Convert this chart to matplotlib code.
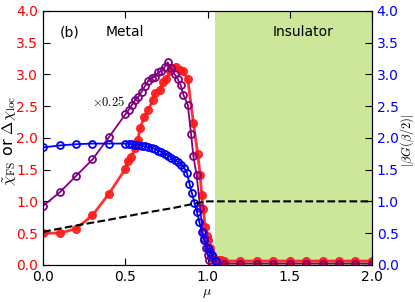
import numpy as np
import matplotlib
matplotlib.use('Agg')
import matplotlib.pyplot as plt

plt.rcParams['mathtext.fontset'] = 'cm'
plt.rcParams['font.size'] = 9

# chi_FS (filled red)
mu_red = [0.0, 0.1, 0.2, 0.3, 0.4, 0.5, 0.515, 0.535, 0.56, 0.575, 0.59, 0.615, 0.64,
          0.667, 0.68, 0.71, 0.73, 0.75, 0.77, 0.79, 0.81, 0.83, 0.85, 0.88, 0.914,
          0.94, 0.955, 0.965, 0.975, 0.985, 0.995, 1.005, 1.015, 1.035, 1.065, 1.085,
          1.1, 1.2, 1.3, 1.4, 1.5, 1.6, 1.7, 1.8, 1.9, 2.0]
chi_fs = [0.50, 0.50, 0.57, 0.78, 1.12, 1.51, 1.63, 1.70, 1.84, 1.96, 2.15, 2.33, 2.44,
          2.60, 2.70, 2.76, 2.88, 2.93, 3.05, 3.10, 3.11, 3.07, 3.05, 2.92, 2.24,
          1.75, 1.42, 1.10, 0.88, 0.60, 0.45, 0.39, 0.27, 0.13, 0.08, 0.07,
          0.06, 0.06, 0.06, 0.06, 0.06, 0.06, 0.06, 0.06, 0.06, 0.06]

# Delta chi_loc x0.25 (open purple)
mu_pur = [0.0, 0.1, 0.2, 0.3, 0.4, 0.5, 0.52, 0.54, 0.56, 0.58, 0.6, 0.62, 0.64, 0.66,
          0.68, 0.70, 0.72, 0.74, 0.757, 0.777, 0.80, 0.82, 0.837, 0.853, 0.88, 0.90,
          0.914, 0.934, 0.955, 0.97, 0.98, 0.99, 1.0, 1.01, 1.025, 1.05, 1.1, 1.2, 1.3,
          1.4, 1.5, 1.6, 1.7, 1.8, 1.9, 2.0]
dchi_loc = [0.93, 1.14, 1.40, 1.66, 2.01, 2.37, 2.44, 2.52, 2.60, 2.65, 2.73, 2.82, 2.90,
            2.95, 2.96, 3.03, 3.05, 3.12, 3.19, 3.10, 3.00, 2.92, 2.83, 2.68, 2.52, 2.06,
            1.71, 1.41, 0.90, 0.52, 0.43, 0.27, 0.16, 0.08, 0.05, 0.03, 0.02, 0.02, 0.02,
            0.02, 0.02, 0.02, 0.02, 0.02, 0.02, 0.02]

# |beta G(beta/2)| (open blue)
mu_blue = [0.0, 0.1, 0.2, 0.3, 0.4, 0.5, 0.52, 0.54, 0.56, 0.58, 0.6, 0.62, 0.64, 0.66,
           0.68, 0.70, 0.72, 0.74, 0.76, 0.78, 0.80, 0.82, 0.84, 0.86, 0.875, 0.89,
           0.905, 0.92, 0.935, 0.95, 0.965, 0.98, 1.0, 1.015, 1.03, 1.05]
beta_g = [1.85, 1.88, 1.90, 1.91, 1.91, 1.91, 1.905, 1.90, 1.895, 1.885, 1.875, 1.865,
          1.855, 1.845, 1.825, 1.80, 1.775, 1.75, 1.72, 1.69, 1.65, 1.62, 1.58, 1.52,
          1.45, 1.28, 1.13, 0.98, 0.84, 0.68, 0.52, 0.39, 0.27, 0.21, 0.15, 0.06]

# dashed reference
mu_dash = [0.0, 0.2, 0.4, 0.6, 0.8, 0.95, 1.0, 2.0]
g_dash = [0.52, 0.62, 0.71, 0.81, 0.90, 0.98, 1.0, 1.0]

fig = plt.figure(figsize=(4.15, 3.02), dpi=100)
ax = fig.add_axes([0.104, 0.123, 0.792, 0.841])
ax2 = ax.twinx()

ax.axvspan(1.045, 2.0, color='#cce69a', zorder=0, lw=0)
ax.plot(mu_red, chi_fs, '-o', color='#ff1a1a', lw=2, ms=5.5, alpha=0.9, mec='#ff1a1a')
ax.plot(mu_pur, dchi_loc, '-o', color='#800080', lw=1.3, ms=5, mfc='none', mew=1.3)
ax.plot(mu_blue, beta_g, '-o', color='#0000ff', lw=1.3, ms=5, mfc='none', mew=1.3)
ax2.plot(mu_dash, g_dash, '--', color='black', lw=1.5)

ax.set_xlim(0, 2)
ax.set_ylim(0, 4)
ax2.set_ylim(0, 4)
ticks = [0.0, 0.5, 1.0, 1.5, 2.0, 2.5, 3.0, 3.5, 4.0]
ax.set_xticks([0.0, 0.5, 1.0, 1.5, 2.0])
ax.set_yticks(ticks)
ax2.set_yticks(ticks)
ax.tick_params(direction='in', top=True, length=5, labelsize=10)
ax.tick_params(axis='y', labelcolor='red')
ax2.tick_params(direction='in', length=5, labelsize=10, labelcolor='blue')

ax.set_xlabel(r'$\mu$', fontsize=10, labelpad=2)
ax.set_ylabel(r'$\tilde{\chi}_{\rm FS}$ or $\Delta\chi_{\rm loc}$', fontsize=11.5)
ax.yaxis.set_label_coords(-0.077, 0.49)
ax2.set_ylabel(r'$|\beta G(\beta/2)|$', fontsize=9)
ax2.yaxis.set_label_coords(1.079, 0.49)

ax.text(0.1, 3.6, '(b)', fontsize=10)
ax.text(0.5, 3.6, 'Metal', fontsize=10, ha='center')
ax.text(1.58, 3.6, 'Insulator', fontsize=10, ha='center')
ax.text(0.3, 2.5, r'$\times 0.25$', fontsize=9)

fig.savefig('out.png', dpi=100)
